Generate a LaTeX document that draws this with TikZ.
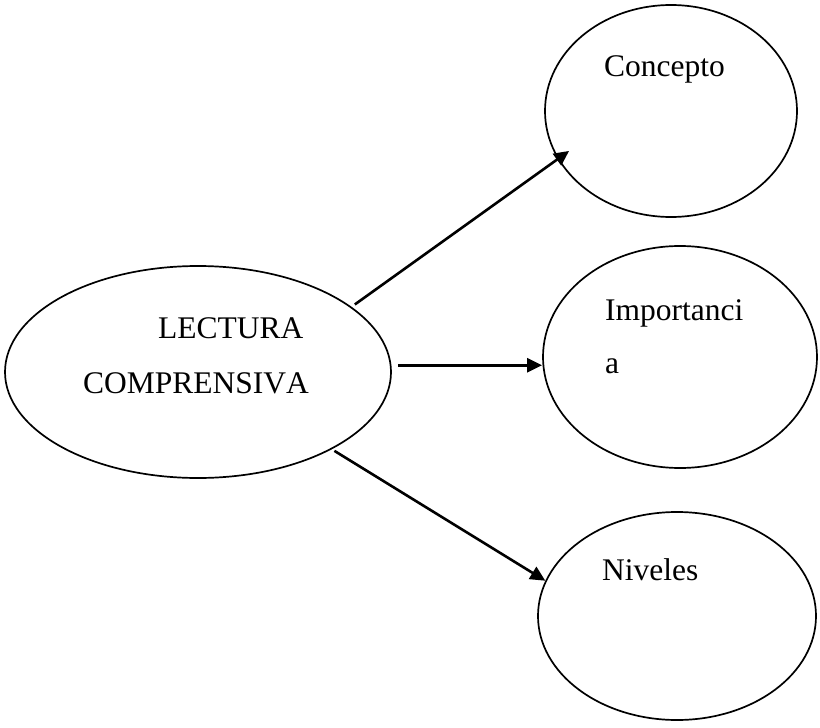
\documentclass[tikz,border=0pt]{standalone}
\usepackage{fontspec}
\setmainfont{Liberation Serif}[Kerning=Off]
\usetikzlibrary{arrows.meta,shapes.geometric}
\begin{document}
\begin{tikzpicture}[x=1pt,y=-1pt,
  bubble/.style={draw, line width=1.7pt, shape=ellipse, inner sep=0pt},
  lbl/.style={anchor=base west, inner sep=0pt, font=\fontsize{31.5}{36}\selectfont},
  arr/.style={line width=2.6pt, -{Triangle[length=15pt,width=14pt]}}]
\useasboundingbox (0,0) rectangle (820,728);
\node[bubble, minimum width=386pt, minimum height=212pt] (lc) at (198,372) {};
\node[bubble, minimum width=252pt, minimum height=212pt] (concepto) at (671,111) {};
\node[bubble, minimum width=274pt, minimum height=222pt] (importancia) at (680,357) {};
\node[bubble, minimum width=278pt, minimum height=208pt] (niveles) at (677,616) {};
\node[lbl] (t1) at (158,338) {LECTURA};
\node[lbl] (t2) at (83,393) {COMPRENSIVA};
\node[lbl] (t3) at (604,76) {Concepto};
\node[lbl] (t4) at (605,320) {Importanci};
\node[lbl] (t5) at (605,373) {a};
\node[lbl] (t6) at (602,580) {Niveles};
\draw[arr, shorten <=4pt, shorten >=-14pt] (lc.23.4) -- (concepto.203.4);
\draw[arr, shorten <=7pt] (lc.2) -- (importancia.west |- lc.2);
\draw[arr, shorten <=3pt] (lc.-30.5) -- (niveles.165);
\end{tikzpicture}
\end{document}
